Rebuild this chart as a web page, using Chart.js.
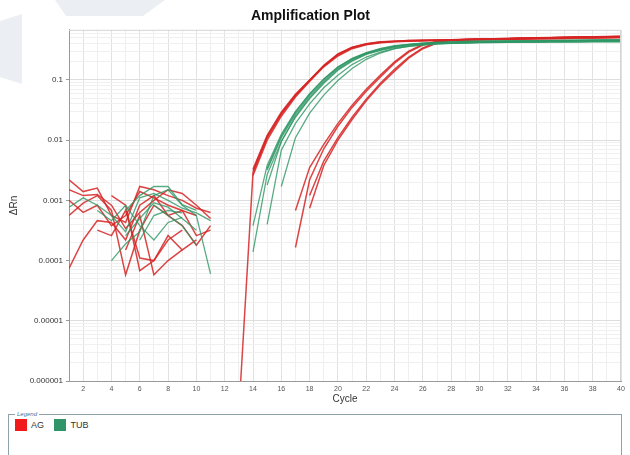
<!DOCTYPE html>
<html>
<head>
<meta charset="utf-8">
<script src="https://cdn.jsdelivr.net/npm/chart.js@4"></script>
<style>
  body { margin: 0; background: #fff; font-family: "Liberation Sans", Arial, sans-serif; overflow: hidden; }
  .wrap { position: relative; width: 630px; height: 408px; }
  .mark { position: absolute; background: #ebeff3; }
  #chart { position: relative; display: block; }
  fieldset { margin: 3px 0 0 8px; width: 600px; height: 60px; border: 1px solid #8ea2ad; padding: 0 6px; }
  legend { font-size: 6px; color: #3b73a8; padding: 0 2px; font-style: italic; }
  .item { display: inline-flex; align-items: center; font-size: 9px; color: #333; margin-right: 6px; }
  .sw { width: 12px; height: 12px; margin-right: 4px; }
</style>
</head>
<body>
<div class="wrap">
  <div class="mark" style="left:0;top:14px;width:22px;height:70px;clip-path:polygon(0 10%,100% 0,100% 100%,0 90%)"></div>
  <div class="mark" style="left:55px;top:0;width:110px;height:16px;clip-path:polygon(0 0,100% 0,80% 100%,10% 100%)"></div>
  <canvas id="chart" width="630" height="408"></canvas>
</div>
<fieldset>
  <legend>Legend</legend>
  <span class="item"><span class="sw" style="background:#f01a1a"></span>AG</span>
  <span class="item"><span class="sw" style="background:#2f9467"></span>TUB</span>
</fieldset>
<script>
const cycles = [];
for (let c = 1; c <= 40; c++) cycles.push(c);

const yTickLabels = ['0.000001', '0.00001', '0.0001', '0.001', '0.01', '0.1'];

// AG wells: cycles 1-40, null = not shown (negative / no value)
const ag1 = [0.0022, 0.0014, 0.0016, 0.00056, 0.00043, 0.0017, 0.0015, 0.0012, 0.001, 0.00074, 0.00063, null,
  3e-7, 0.0029, 0.011, 0.027, 0.055, 0.098, 0.17, 0.26, 0.34, 0.39, 0.42, 0.435, 0.445, 0.45, 0.455, 0.46,
  0.465, 0.47, 0.475, 0.48, 0.48, 0.485, 0.49, 0.495, 0.5, 0.5, 0.505, 0.51];
const ag2 = [0.0015, 0.0012, 0.00125, 0.00083, 0.00034, 0.00063, 0.001, 0.0015, 0.0013, 0.00083, 0.0005, null,
  null, 0.0033, 0.012, 0.029, 0.058, 0.1, 0.175, 0.27, 0.35, 0.4, 0.43, 0.44, 0.45, 0.455, 0.46, 0.465,
  0.47, 0.475, 0.48, 0.485, 0.49, 0.495, 0.5, 0.505, 0.51, 0.515, 0.52, 0.52];
const ag3 = [0.000074, 0.00022, 0.00046, 0.00043, 0.00022, 0.00083, 0.0012, 0.00056, 0.00038, 0.00018, 0.00038, null,
  null, 0.0026, 0.01, 0.025, 0.052, 0.094, 0.165, 0.25, 0.33, 0.385, 0.415, 0.43, 0.44, 0.445, 0.45, 0.455,
  0.46, 0.46, 0.465, 0.47, 0.475, 0.48, 0.48, 0.485, 0.49, 0.49, 0.495, 0.5];
const ag4 = [0.00056, 0.0009, 0.0012, 0.00068, 0.000058, 0.00032, 0.00083, 0.00056, 0.00068, 0.00056, null, null,
  null, null, null, null, 0.00068, 0.0035, 0.0085, 0.019, 0.038, 0.07, 0.12, 0.2, 0.3, 0.39, 0.44, 0.46,
  0.47, 0.475, 0.48, 0.485, 0.49, 0.495, 0.5, 0.505, 0.51, 0.515, 0.52, 0.525];
const ag5 = [null, null, 0.00032, 0.00026, 0.00068, 0.00011, 0.0001, 0.00022, 0.00032, null, null, null,
  null, null, null, null, 0.000165, 0.0022, 0.0072, 0.017, 0.035, 0.065, 0.112, 0.19, 0.29, 0.38, 0.43, 0.455,
  0.465, 0.47, 0.475, 0.48, 0.485, 0.49, 0.495, 0.5, 0.505, 0.51, 0.515, 0.52];
const ag6 = [0.001, 0.00063, 0.00083, 0.00038, 0.00056, 0.0014, 0.0011, 0.00083, 0.00068, 0.00026, 0.00032, null,
  null, null, null, null, null, 0.00074, 0.0038, 0.01, 0.022, 0.045, 0.083, 0.14, 0.23, 0.33, 0.41, 0.45,
  0.47, 0.48, 0.485, 0.49, 0.495, 0.5, 0.505, 0.51, 0.515, 0.52, 0.525, 0.53];
const ag7 = [null, null, null, null, 0.00015, 0.00056, 0.000058, 0.0001, 0.00015, null, null, null,
  null, null, null, null, null, 0.0012, 0.0045, 0.011, 0.024, 0.048, 0.088, 0.15, 0.24, 0.34, 0.42, 0.46,
  0.47, 0.475, 0.48, 0.485, 0.49, 0.495, 0.5, 0.505, 0.51, 0.515, 0.52, 0.52];
const ag8 = [null, null, null, 0.0012, 0.00083, 0.000068, 0.0001, 0.00026, 0.00015, 0.00022, null, null,
  null, 0.0031, 0.0115, 0.028, 0.056, 0.099, 0.17, 0.265, 0.345, 0.395, 0.425, 0.44, 0.45, 0.455, 0.46, 0.465,
  0.47, 0.475, 0.48, 0.485, 0.49, 0.495, 0.5, 0.505, 0.51, 0.515, 0.52, 0.525];

// TUB wells
const tub1 = [0.00077, 0.0011, 0.00083, 0.00056, 0.0003, 0.0011, 0.0013, 0.001, 0.00074, 0.00062, 0.00046, null,
  null, 0.00014, 0.0027, 0.0095, 0.024, 0.049, 0.088, 0.145, 0.205, 0.265, 0.31, 0.345, 0.37, 0.39, 0.4, 0.405,
  0.41, 0.415, 0.415, 0.42, 0.42, 0.42, 0.425, 0.425, 0.425, 0.43, 0.43, 0.43];
const tub2 = [null, null, null, 0.0001, 0.00019, 0.0003, 0.0012, 0.0015, 0.00083, 0.00056, 0.00006, null,
  null, 0.00038, 0.0038, 0.0125, 0.03, 0.059, 0.104, 0.165, 0.225, 0.28, 0.33, 0.365, 0.39, 0.41, 0.42, 0.43,
  0.435, 0.44, 0.44, 0.445, 0.445, 0.45, 0.45, 0.455, 0.455, 0.46, 0.46, 0.46];
const tub3 = [null, null, null, null, 0.00068, 0.0012, 0.0017, 0.0017, 0.00085, 0.00068, null, null,
  null, null, 0.0004, 0.0068, 0.019, 0.04, 0.074, 0.12, 0.18, 0.24, 0.29, 0.33, 0.36, 0.38, 0.395, 0.405,
  0.41, 0.415, 0.42, 0.42, 0.425, 0.425, 0.43, 0.43, 0.43, 0.435, 0.435, 0.435];
const tub4 = [null, null, null, null, 0.00026, 0.0005, 0.00091, 0.00077, 0.0005, 0.00032, null, null,
  null, null, 0.0018, 0.0095, 0.025, 0.051, 0.092, 0.15, 0.21, 0.27, 0.315, 0.355, 0.38, 0.4, 0.41, 0.42,
  0.425, 0.43, 0.435, 0.435, 0.44, 0.44, 0.445, 0.445, 0.45, 0.45, 0.45, 0.455];
const tub5 = [null, null, null, null, null, 0.00022, 0.00056, 0.00068, 0.00062, null, null, null,
  null, null, null, 0.0017, 0.011, 0.028, 0.056, 0.098, 0.155, 0.22, 0.28, 0.33, 0.36, 0.385, 0.4, 0.41,
  0.415, 0.42, 0.425, 0.425, 0.43, 0.43, 0.435, 0.435, 0.44, 0.44, 0.44, 0.445];
const tub6 = [null, null, 0.00068, 0.00046, 0.00083, 0.00038, 0.00022, 0.00043, 0.00052, null, null, null,
  null, null, 0.0034, 0.0118, 0.029, 0.058, 0.103, 0.163, 0.228, 0.285, 0.33, 0.37, 0.39, 0.41, 0.42, 0.43,
  0.435, 0.44, 0.445, 0.445, 0.45, 0.45, 0.455, 0.455, 0.46, 0.46, 0.465, 0.465];
const tub7 = [null, null, null, null, null, null, 0.00083, 0.00056, 0.00038, 0.00018, null, null,
  null, null, 0.0032, 0.011, 0.027, 0.055, 0.097, 0.157, 0.218, 0.275, 0.32, 0.36, 0.385, 0.4, 0.41, 0.42,
  0.425, 0.43, 0.43, 0.435, 0.435, 0.44, 0.44, 0.44, 0.445, 0.445, 0.45, 0.45];

const agWells = [ag1, ag2, ag3, ag4, ag5, ag6, ag7, ag8];
const tubWells = [tub1, tub2, tub3, tub4, tub5, tub6, tub7];

const agColor = 'rgba(214, 36, 36, 0.85)';
const tubColor = 'rgba(46, 150, 100, 0.8)';

function well(values, color, name, width) {
  return {
    label: name,
    data: values.map((v, i) => ({ x: cycles[i], y: v })),
    borderColor: color,
    borderWidth: width,
    pointRadius: 0,
    fill: false,
    spanGaps: false,
    tension: 0,
  };
}

const datasets = [];
tubWells.forEach((w, i) => datasets.push(well(w, tubColor, 'TUB ' + (i + 1), 1.3)));
agWells.forEach((w, i) => datasets.push(well(w, agColor, 'AG ' + (i + 1), 1.5)));

const yMin = 1e-6, yMax = 0.68;
const yTicks = [];
for (let e = -6; e <= 0; e++) {
  for (let k = 1; k <= 9; k++) {
    const v = k * Math.pow(10, e);
    if (v <= yMax * 1.0001) yTicks.push(+v.toPrecision(3));
  }
}
const isDecade = v => Math.abs(Math.log10(v) - Math.round(Math.log10(v))) < 1e-6;

const frame = {
  id: 'frame',
  afterDraw(chart) {
    const a = chart.chartArea, c = chart.ctx;
    c.save();
    c.strokeStyle = '#d4d4d4';
    c.lineWidth = 1;
    c.beginPath();
    c.moveTo(a.left, a.top + 0.5);
    c.lineTo(a.right - 0.5, a.top + 0.5);
    c.lineTo(a.right - 0.5, a.bottom);
    c.stroke();
    c.restore();
  }
};

new Chart(document.getElementById('chart'), {
  type: 'line',
  data: { datasets },
  options: {
    responsive: false,
    animation: false,
    layout: { padding: { left: 0, right: 9, top: 0, bottom: 0 } },
    plugins: {
      legend: { display: false },
      tooltip: { enabled: false },
      title: {
        display: true,
        text: 'Amplification Plot',
        color: '#111',
        font: { family: 'Liberation Sans', size: 14, weight: 'bold' },
        padding: { top: 8, bottom: 5 },
      },
    },
    scales: {
      x: {
        type: 'linear',
        min: 1,
        max: 40,
        afterFit: s => { s.height = 27; },
        ticks: {
          stepSize: 1,
          autoSkip: false,
          maxRotation: 0,
          padding: 2,
          color: '#555',
          font: { family: 'Liberation Sans', size: 7 },
          callback: v => (v % 2 === 0 ? v : ''),
        },
        grid: {
          color: ctx => (ctx.tick && ctx.tick.value % 2 === 0 ? '#e2e2e2' : '#efefef'),
          tickLength: 2,
          tickColor: 'transparent',
        },
        border: { color: '#9a9a9a' },
        title: {
          display: true,
          text: 'Cycle',
          color: '#333',
          font: { family: 'Liberation Sans', size: 10 },
          padding: { top: 0, bottom: 3 },
        },
      },
      y: {
        type: 'logarithmic',
        min: yMin,
        max: yMax,
        afterFit: s => { s.width = 69; },
        afterBuildTicks: s => { s.ticks = yTicks.map(v => ({ value: v, major: isDecade(v) })); },
        ticks: {
          autoSkip: false,
          padding: 3,
          color: '#333',
          font: { family: 'Liberation Sans', size: 8 },
          callback: v => (isDecade(v) ? yTickLabels[Math.round(Math.log10(v)) + 6] : ''),
        },
        grid: {
          color: ctx => (ctx.tick && isDecade(ctx.tick.value) ? '#dedede' : '#f0f0f0'),
          tickLength: 3,
          tickColor: ctx => (ctx.tick && isDecade(ctx.tick.value) ? '#9a9a9a' : 'transparent'),
        },
        border: { color: '#9a9a9a' },
        title: {
          display: true,
          text: 'ΔRn',
          color: '#333',
          font: { family: 'Liberation Sans', size: 10 },
          padding: { top: 8, bottom: 0 },
        },
      },
    },
  },
  plugins: [frame],
});
</script>
</body>
</html>
